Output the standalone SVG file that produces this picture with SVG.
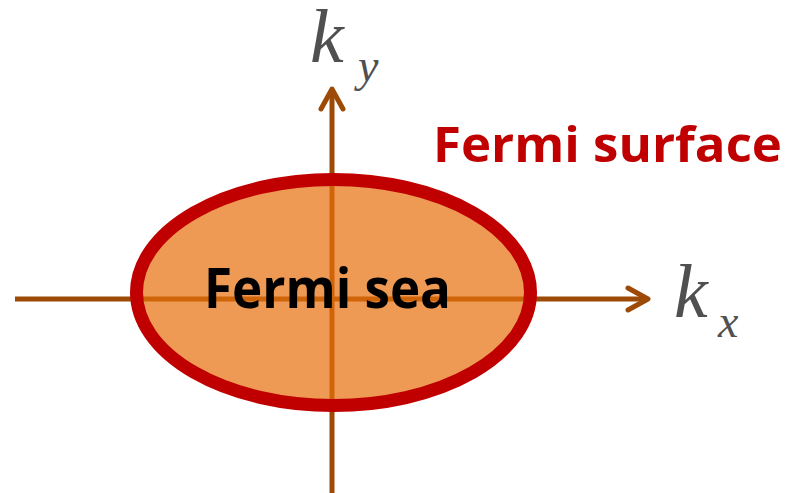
<svg xmlns="http://www.w3.org/2000/svg" width="786" height="493" viewBox="0 0 786 493">
<style>
.axis{stroke:#9C4A06;stroke-width:5;fill:none}
.head{stroke:#9C4A06;stroke-width:5;fill:none;stroke-linecap:round;stroke-linejoin:round}
.k{font-family:"Liberation Serif",serif;font-style:italic;fill:#505050}
.lbl{font-family:"Open Sans","Noto Sans",sans-serif;font-weight:bold}
</style>
<g id="connectors">
<line class="axis" x1="15" y1="299" x2="646" y2="299"/>
<polyline class="head" points="628,288 648,299 628,310"/>
<line class="axis" x1="332" y1="493" x2="332" y2="91"/>
<polyline class="head" points="321,109 332,89 343,109"/>
</g>
<g id="fermi-sea">
<ellipse cx="333.5" cy="292.5" rx="197" ry="113" fill="#E76F0C" fill-opacity="0.7" stroke="none"/>
<ellipse cx="333.5" cy="292.5" rx="197" ry="113" fill="none" stroke="#C00000" stroke-width="13"/>
<text class="lbl" x="204" y="308" font-size="55" fill="#000000" textLength="247" lengthAdjust="spacingAndGlyphs">Fermi sea</text>
</g>
<g id="fermi-surface">
<text class="lbl" x="433" y="162" font-size="49" fill="#C00000" textLength="349" lengthAdjust="spacingAndGlyphs">Fermi surface</text>
</g>
<g id="ky">
<text class="k" x="310" y="62" font-size="76">k</text>
<text class="k" x="358" y="81" font-size="46">y</text>
</g>
<g id="kx">
<text class="k" x="674" y="317" font-size="76">k</text>
<text class="k" x="718" y="337" font-size="46">x</text>
</g>
</svg>
